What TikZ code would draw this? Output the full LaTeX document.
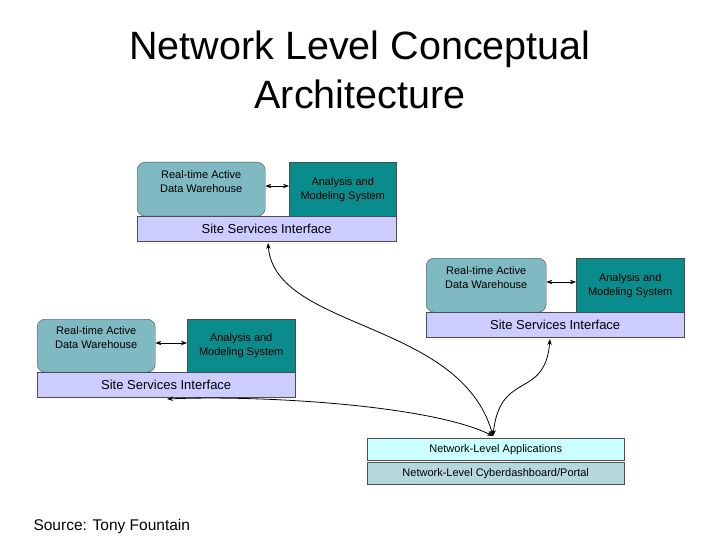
\documentclass[tikz,border=0pt]{standalone}
\usepackage{fontspec}
\setmainfont{Liberation Sans}
\usetikzlibrary{arrows.meta}
\definecolor{whcol}{HTML}{7FB9C2}
\definecolor{ancol}{HTML}{0A8C8C}
\definecolor{sicol}{HTML}{CCCCFF}
\definecolor{apcol}{HTML}{CCFFFF}
\definecolor{pocol}{HTML}{B4D8DC}
\begin{document}
\begin{tikzpicture}[x=1pt,y=-1pt,
    box/.style={draw=black!70, inner sep=0pt, anchor=north west, font=\fontsize{11}{14}\selectfont, align=center},
    sbox/.style={box, font=\fontsize{13}{15}\selectfont},
    link/.style={{Stealth[length=6pt]}-{Stealth[length=6pt]}, thick}]
\useasboundingbox (0,0) rectangle (720,540);

% Title
\node[font=\fontsize{39.5}{49}\selectfont, align=center] (title) at (360,70) {Network Level Conceptual\\Architecture};

% Site 1
\node[box, fill=whcol, rounded corners=8pt, minimum width=128pt, minimum height=54pt, text depth=16pt] (WH1) at (137,162) {Real-time Active\\Data Warehouse};
\node[box, fill=ancol, minimum width=107pt, minimum height=54pt] (AN1) at (289,162) {Analysis and\\Modeling System};
\node[sbox, fill=sicol, minimum width=259pt, minimum height=25pt] (SI1) at (137,216) {Site Services Interface};

% Site 2
\node[box, fill=whcol, rounded corners=8pt, minimum width=120pt, minimum height=54pt, text depth=16pt] (WH2) at (426,258) {Real-time Active\\Data Warehouse};
\node[box, fill=ancol, minimum width=108pt, minimum height=54pt] (AN2) at (576,258) {Analysis and\\Modeling System};
\node[sbox, fill=sicol, minimum width=258pt, minimum height=25pt] (SI2) at (426,312) {Site Services Interface};

% Site 3
\node[box, fill=whcol, rounded corners=8pt, minimum width=118pt, minimum height=53pt, text depth=16pt] (WH3) at (37,319) {Real-time Active\\Data Warehouse};
\node[box, fill=ancol, minimum width=108pt, minimum height=53pt] (AN3) at (187,319) {Analysis and\\Modeling System};
\node[sbox, fill=sicol, minimum width=258pt, minimum height=25pt] (SI3) at (37,372) {Site Services Interface};

% Network level
\node[box, fill=apcol, minimum width=257pt, minimum height=22pt] (APP) at (367,438) {Network-Level Applications};
\node[box, fill=pocol, minimum width=257pt, minimum height=22pt] (POR) at (367,462) {Network-Level Cyberdashboard/Portal};

\node[font=\fontsize{15.5}{18}\selectfont, anchor=west] (SRC) at (30,526) {Source: Tony Fountain};

% Connections
\coordinate (HUB) at (493,436);
\draw[link] (WH1.east |- 0,186) -- (AN1.west |- 0,186);
\draw[link] (WH2.east |- 0,282) -- (AN2.west |- 0,282);
\draw[link] (WH3.east |- 0,343) -- (AN3.west |- 0,343);
\draw[link] (268,243) .. controls (275,330) and (460,320) .. (HUB);
\draw[link] (550,339) .. controls (545,400) and (500,370) .. (HUB);
\draw[link] (167,399) .. controls (260,395) and (430,405) .. (HUB);
\end{tikzpicture}
\end{document}
